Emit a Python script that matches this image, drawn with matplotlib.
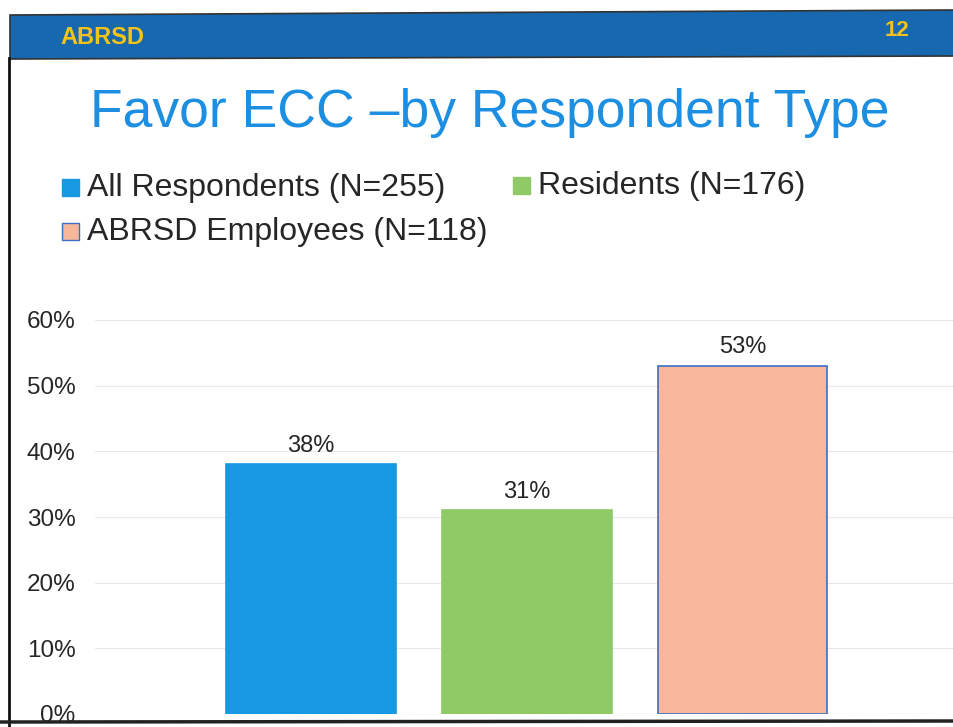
import matplotlib.pyplot as plt
from matplotlib.patches import Rectangle, Polygon
from matplotlib.ticker import PercentFormatter

plt.rcParams['font.family'] = ['Liberation Sans', 'DejaVu Sans']

# Survey results: share in favor of ECC, by respondent group
groups = ['All Respondents (N=255)', 'Residents (N=176)', 'ABRSD Employees (N=118)']
favor = [0.38, 0.31, 0.53]
labels = ['38%', '31%', '53%']
colors = ['#1699e0', '#8fca66', '#f7b79c']
edges = ['#1699e0', '#8fca66', '#3d6fc2']

W, H = 954, 727
fig = plt.figure(figsize=(W / 100, H / 100), dpi=100)
fig.patch.set_facecolor('white')

# background layer in pixel coordinates for the slide decorations
bg = fig.add_axes([0, 0, 1, 1])
bg.set_xlim(0, W)
bg.set_ylim(H, 0)
bg.axis('off')

# header bar (slightly tilted, like the page)
bg.add_patch(Polygon([(10, 15), (W, 10), (W, 56), (10, 59)], closed=True,
                     facecolor='#1768ae', edgecolor='#333333', linewidth=1.2))
bg.text(60, 37, 'ABRSD', color='#f4c318', fontsize=17, fontweight='bold', va='center')
bg.text(897, 30, '12', color='#f4c318', fontsize=16, fontweight='bold', va='center', ha='center')

# page borders
bg.plot([9, 9], [58, H], color='#111111', linewidth=2)
bg.plot([0, W], [722, 721], color='#222222', linewidth=2.5)

bg.text(490, 113, 'Favor ECC \u2013by Respondent Type', color='#1c8fe3',
        fontsize=38.5, ha='center', va='center')

# legend drawn as two rows
legend_pos = [(62, 187), (513, 185), (62, 231)]
for (lx, ly), name, fc, ec in zip(legend_pos, groups, colors, edges):
    bg.add_patch(Rectangle((lx, ly - 8), 17, 17, facecolor=fc, edgecolor=ec, linewidth=1))
    bg.text(lx + 25, ly + 1, name, fontsize=23, color='#262626', va='center')

# chart area
ax = fig.add_axes([95 / W, (H - 714) / H, (W - 95) / W, 394 / H])
x = range(len(favor))
bars = ax.bar(x, favor, width=0.787, color=colors, edgecolor=edges, linewidth=1.2, zorder=2)
for b, txt in zip(bars, labels):
    ax.text(b.get_x() + b.get_width() / 2, b.get_height() + 0.012, txt,
            ha='center', va='bottom', fontsize=17, color='#262626')

ax.set_xlim(-1.0, 2.98)
ax.set_ylim(0, 0.6)
ax.set_yticks([0, 0.1, 0.2, 0.3, 0.4, 0.5, 0.6])
ax.yaxis.set_major_formatter(PercentFormatter(1.0, decimals=0))
ax.set_xticks([])
ax.tick_params(axis='y', length=0, pad=14, labelsize=17.5, labelcolor='#262626')
ax.grid(axis='y', color='#e8e8e8', linewidth=0.8, zorder=0)
for s in ax.spines.values():
    s.set_visible(False)
ax.patch.set_alpha(0)

fig.savefig('out.png', dpi=100)
